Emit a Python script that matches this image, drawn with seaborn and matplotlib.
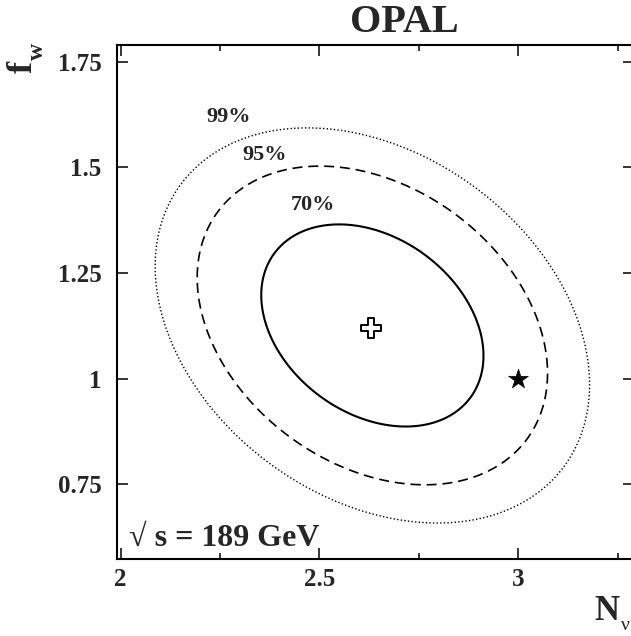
import numpy as np
import pandas as pd
import matplotlib
matplotlib.use("Agg")
import matplotlib.pyplot as plt
import seaborn as sns

# ---- data ----
best_fit_n = [2.63]          # N_nu at the best fit (open cross)
best_fit_f = [1.12]          # f_w at the best fit
contour_center_n = 2.633     # centre of the CL contours
contour_center_f = 1.126
sm_n = [3.0]                 # Standard Model point (star)
sm_f = [1.0]
sigma_n = 0.180              # 1-sigma error on N_nu
sigma_f = 0.154              # 1-sigma error on f_w
rho = -0.30                  # correlation coefficient
cl_labels = ["70%", "95%", "99%"]
cl_dchi2 = [2.41, 5.99, 9.21]            # delta chi2 for 2 dof
cl_label_x = [2.484, 2.363, 2.272]
cl_label_y = [1.399, 1.517, 1.607]
x_ticks = [2, 2.5, 3]
x_ticklabels = ["2", "2.5", "3"]
x_minor = [2.25, 2.75, 3.25]
y_ticks = [0.75, 1, 1.25, 1.5, 1.75]
y_ticklabels = ["0.75", "1", "1.25", "1.5", "1.75"]

sns.set_style("ticks")
plt.rcParams["font.family"] = ["Liberation Serif", "DejaVu Serif"]
plt.rcParams["font.weight"] = "bold"

W, H = 631, 636
fig = plt.figure(figsize=(W / 100, H / 100), dpi=100)
left, right, top, bottom = 116.7, 634.0, 45.0, 559.3
ax = fig.add_axes([left / W, (H - bottom) / H, (right - left) / W, (bottom - top) / H])

# chi2 surface from the fit parameters
gn = np.linspace(1.8, 3.5, 500)
gf = np.linspace(0.45, 1.9, 500)
GN, GF = np.meshgrid(gn, gf)
dx = (GN - contour_center_n) / sigma_n
dy = (GF - contour_center_f) / sigma_f
chi2 = (dx**2 - 2 * rho * dx * dy + dy**2) / (1 - rho**2)

styles = [dict(linestyles="solid", linewidths=1.5),
          dict(linestyles=[(0, (6, 3.5))], linewidths=1.2),
          dict(linestyles=[(0, (1, 1.6))], linewidths=1.0)]
for lev, st in zip(cl_dchi2, styles):
    ax.contour(GN, GF, chi2, levels=[lev], colors="black", **st)

pts = pd.DataFrame({"n": best_fit_n, "f": best_fit_f})
sns.scatterplot(data=pts, x="n", y="f", marker="P", s=200, facecolor="white",
                edgecolor="black", linewidth=1.4, ax=ax, zorder=5)
sm = pd.DataFrame({"n": sm_n, "f": sm_f})
sns.scatterplot(data=sm, x="n", y="f", marker="*", s=220, color="black",
                edgecolor="black", linewidth=0.5, ax=ax, zorder=5)

for lab, lx, ly in zip(cl_labels, cl_label_x, cl_label_y):
    ax.text(lx, ly, lab, ha="center", va="baseline", fontsize=16, fontweight="bold")

ax.text(2.021, 0.604, "\u221a s = 189 GeV", ha="left", va="baseline",
        fontsize=23, fontweight="bold", family=["Liberation Serif", "DejaVu Serif"])

ax.set_xlim(1.990, 3.291)
ax.set_ylim(0.5728, 1.7895)
ax.set_xticks(x_ticks)
ax.set_xticklabels(x_ticklabels)
ax.set_xticks(x_minor, minor=True)
ax.set_yticks(y_ticks)
ax.set_yticklabels(y_ticklabels)
ax.set_xlabel("")
ax.set_ylabel("")
ax.tick_params(which="both", direction="in", top=True, right=True, width=1.1, color="black")
ax.tick_params(which="major", length=8, labelsize=18)
ax.tick_params(axis="x", which="major", pad=6)
ax.tick_params(axis="y", which="major", pad=11)
ax.tick_params(which="minor", length=4)
for lab in ax.get_xticklabels() + ax.get_yticklabels():
    lab.set_fontweight("bold")
for sp in ax.spines.values():
    sp.set_linewidth(1.5)
    sp.set_color("black")
    sp.set_visible(True)

# title and axis titles
fig.text(404 / W, 1 - 32 / H, "OPAL", ha="center", va="baseline", fontsize=29, fontweight="bold")
fig.text(32 / W, 1 - 73 / H, "f", rotation=90, rotation_mode="anchor", ha="left",
         va="baseline", fontsize=26, fontweight="bold")
fig.text(43 / W, 1 - 60 / H, "w", rotation=90, rotation_mode="anchor", ha="left",
         va="baseline", fontsize=17, fontweight="bold")
fig.text(594 / W, 1 - 620 / H, "N", ha="left", va="baseline", fontsize=25, fontweight="bold")
fig.text(621 / W, 1 - 630 / H, "\u03bd", ha="left", va="baseline", fontsize=14, fontweight="normal")

fig.savefig("out.png", dpi=100)
